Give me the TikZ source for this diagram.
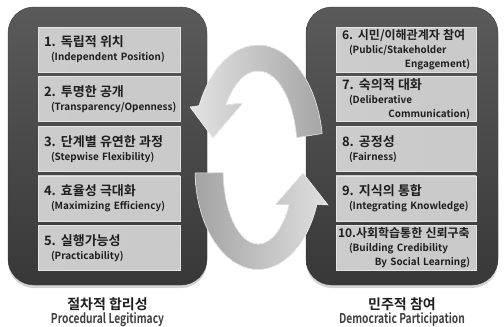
\documentclass[tikz,border=0pt]{standalone}
\usepackage{fontspec}
\setmainfont{Noto Sans CJK KR}[BoldFont={Noto Sans CJK KR Bold}]
\usepackage{graphicx}
\usetikzlibrary{positioning,shadows}

\definecolor{panelhi}{HTML}{5A5A5A}
\definecolor{panello}{HTML}{383838}
\definecolor{textdk}{HTML}{1E1E1E}
\newcommand\kline[1]{{\fontsize{13}{14}\selectfont #1}}
\newcommand\ksmall[1]{{\fontsize{12}{14}\selectfont #1}}
\newcommand\eline[1]{\hspace*{7pt}\mbox{#1}}

\begin{document}
\begin{tikzpicture}[x=1pt,y=-1pt,node distance=4pt and 0pt,
  panel/.style={rounded corners=26pt,top color=panelhi,bottom color=panello,
    draw=panello,minimum width=199pt,minimum height=278pt,
    drop shadow={shadow xshift=0pt,shadow yshift=-3pt,opacity=.35}},
  item/.style={draw=gray!20,line width=.6pt,left color=gray!40,middle color=gray!6,
    right color=gray!42,minimum height=45pt,text width=130pt,inner xsep=6pt,
    inner ysep=1pt,align=left,font=\fontsize{9.9}{14}\selectfont\bfseries,text=textdk},
  ttl/.style={font=\fontsize{14}{16}\selectfont\bfseries,text=textdk,inner sep=0pt},
  sub/.style={font=\fontsize{13.5}{15}\selectfont\bfseries,text=textdk!85,inner sep=0pt},
  ribbon/.style={draw=white,line width=.5pt}]
  \useasboundingbox (0,0) rectangle (504,327);

  % two panels
  \node[panel] (L) at (107.5,146) {};
  \node[panel,minimum width=192pt] (R) at (402,146) {};

  % procedural side
  \node[item] (1) at (109,49.5) {\kline{1. 독립적 위치}\\\eline{(Independent Position)}};
  \node[item,below=of 1] (2) {\kline{2. 투명한 공개}\\\eline{(Transparency/Openness)}};
  \node[item,below=of 2] (3) {\kline{3. 단계별 유연한 과정}\\\eline{(Stepwise Flexibility)}};
  \node[item,below=of 3] (4) {\kline{4. 효율성 극대화}\\\eline{(Maximizing Efficiency)}};
  \node[item,below=of 4] (5) {\kline{5. 실행가능성}\\\eline{(Practicability)}};

  % democratic side
  \node[item,text width=128pt] (6) at (406,49.5) {\ksmall{6. 시민/이해관계자 참여}\\\eline{(Public/Stakeholder}\\\hspace*{\fill}Engagement)};
  \node[item,text width=128pt,below=of 6] (7) {\kline{7. 숙의적 대화}\\\eline{(Deliberative}\\\hspace*{\fill}Communication)};
  \node[item,text width=128pt,below=of 7] (8) {\kline{8. 공정성}\\\eline{(Fairness)}};
  \node[item,text width=128pt,below=of 8] (9) {\kline{9. 지식의 통합}\\\eline{(Integrating Knowledge)}};
  \node[item,text width=128pt,below=of 9] (10) {\ksmall{\makebox[\linewidth][l]{\hspace*{-4pt}10.사회학습통한 신뢰구축}}\\\eline{(Building Credibility}\\\hspace*{\fill}By Social Learning)};

  \node[ttl,below=12pt of L] (Lt) {절차적 합리성};
  \node[sub,below=2pt of Lt] (Ls) {\scalebox{0.76}[1]{Procedural Legitimacy}};
  \node[ttl,below=12pt of R] (Rt) {민주적 참여};
  \node[sub,below=2pt of Rt] (Rs) {\scalebox{0.76}[1]{Democratic Participation}};

  % cycle arrows
  \fill[ribbon,left color=gray!22,right color=gray!70]
    (322.2,133.6) arc[start angle=-9,end angle=-155,x radius=65,y radius=105]
    -- (190,107) -- (213,138) -- (243,103) -- (226.1,104.7)
    arc[start angle=-145,end angle=-9,x radius=39,y radius=79] -- cycle;
  \fill[ribbon,left color=gray!72,right color=gray!25]
    (195,173) arc[start angle=178,end angle=20.5,x radius=63,y radius=100]
    -- (328,205) -- (303,173) -- (275,205) -- (289,204.8)
    arc[start angle=28,end angle=178,x radius=35,y radius=74] -- cycle;
\end{tikzpicture}
\end{document}
